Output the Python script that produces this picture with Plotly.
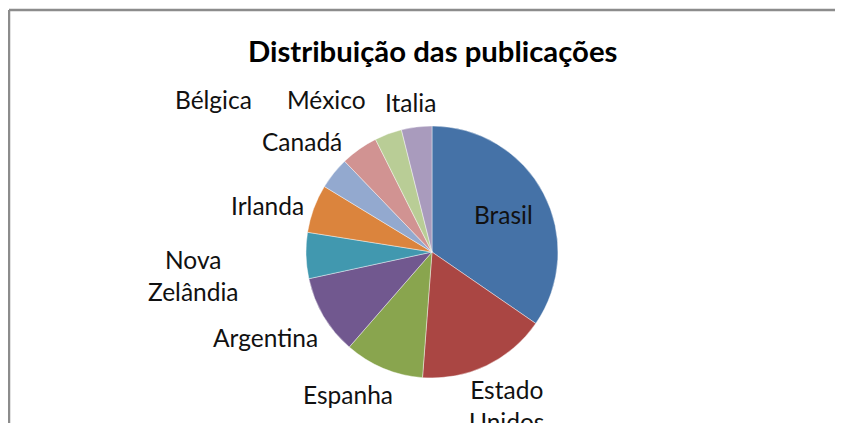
import plotly.graph_objects as go

# The page body adds an 8px margin, so the figure is sized to the visible area
# and all reference pixel positions are shifted by that offset.
OFF = 8
W, H = 843 - OFF, 423 - OFF

# ---- data ----
countries = ["Brasil", "Estado Unidos", "Espanha", "Argentina", "Nova Zelândia",
             "Irlanda", "Canadá", "Bélgica", "México", "Italia"]
shares = [34.6, 16.6, 10.2, 10.2, 5.9, 6.2, 4.1, 4.8, 3.5, 3.9]
label_text = ["Brasil", "Estado<br>Unidos", "Espanha", "Argentina", "Nova<br>Zelândia",
              "Irlanda", "Canadá", "Bélgica", "México", "Italia"]
title_text = "Distribuição das publicações"

# ---- styling / layout ----
colors = ["#4572A7", "#AA4643", "#89A54E", "#71588F", "#4198AF",
          "#DB843D", "#93A9CF", "#D19392", "#B9CD96", "#A99BBD"]
# label centres in reference pixels (x, y from top)
label_pos = [(503, 214), (506, 405), (348, 394), (265, 337), (193, 275),
             (267, 205), (302, 141), (213, 100), (326, 100), (410, 103)]

cx, cy, r = 432, 252, 126


def px(x):
    return (x - OFF) / W


def py(y):
    return 1 - (y - OFF) / H


fig = go.Figure(go.Pie(
    labels=countries,
    values=shares,
    sort=False,
    direction="clockwise",
    rotation=0,
    textinfo="none",
    hoverinfo="label+percent",
    marker=dict(colors=colors, line=dict(color="rgba(255,255,255,0.6)", width=0.7)),
    domain=dict(x=[px(cx - r), px(cx + r)], y=[py(cy + r), py(cy - r)]),
    showlegend=False,
))

annotations = []
for txt, (x, y) in zip(label_text, label_pos):
    annotations.append(dict(
        text=txt, x=px(x), y=py(y), xref="paper", yref="paper",
        xanchor="center", yanchor="middle", showarrow=False,
        font=dict(family="Lato", size=24.5, color="#111111"),
    ))
annotations.append(dict(
    text="<b>" + title_text + "</b>", x=px(432), y=py(51), xref="paper", yref="paper",
    xanchor="center", yanchor="middle", showarrow=False,
    font=dict(family="Lato", size=29.3, color="#000000"),
))

shapes = [
    # chart frame (top and left edges visible)
    dict(type="line", xref="paper", yref="paper", x0=px(9), x1=1.01, y0=py(10), y1=py(10),
         line=dict(color="#8c8c8c", width=2.5)),
    dict(type="line", xref="paper", yref="paper", x0=px(9), x1=px(9), y0=py(10), y1=-0.01,
         line=dict(color="#8c8c8c", width=2.5)),
]

fig.update_layout(
    width=W, height=H,
    margin=dict(l=0, r=0, t=0, b=0),
    paper_bgcolor="white",
    plot_bgcolor="white",
    annotations=annotations,
    shapes=shapes,
)

fig.write_html("out.html")
